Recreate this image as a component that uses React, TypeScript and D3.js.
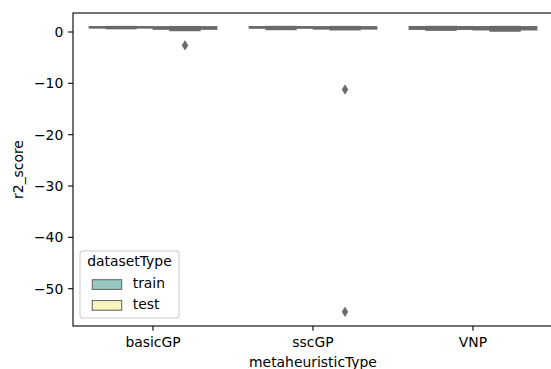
import React from "react";
import * as d3 from "d3";

const categories = ["basicGP", "sscGP", "VNP"];
const hues = ["train", "test"];
// summary stats per category for each hue: [whisker low, q1, median, q3, whisker high]
const trainStats = [
  [0.72, 0.88, 0.92, 0.95, 0.99],
  [0.55, 0.85, 0.9, 0.95, 1.0],
  [0.42, 0.6, 0.85, 0.97, 1.0],
];
const testStats = [
  [0.35, 0.62, 0.85, 0.93, 0.98],
  [0.5, 0.66, 0.86, 0.93, 0.99],
  [0.25, 0.5, 0.8, 0.95, 1.0],
];
const trainFliers: number[][] = [[], [], []];
const testFliers: number[][] = [[-2.6], [-11.2, -54.5], []];
const yTicks = [0, -10, -20, -30, -40, -50];
const hueColors = ["#96cac1", "#f6f6bc"];

const W = 551;
const H = 369;
const FS = 13.9;
const GRAY = "#6a6a6a";

export default function App() {
  const left = 73, right = 553, top = 13, bottom = 326;
  const x = d3.scaleBand<string>().domain(categories).range([left, right]).paddingInner(0).paddingOuter(0);
  const hueX = d3.scaleBand<string>().domain(hues).range([-64, 64]);
  const y = d3.scaleLinear().domain([-57.27, 3.7]).range([bottom, top]);
  const fmt = d3.format("d");
  const boxW = hueX.bandwidth() * 0.98;
  const capW = boxW * 0.5;
  const statsByHue = [trainStats, testStats];
  const fliersByHue = [trainFliers, testFliers];

  const boxes: React.ReactNode[] = [];
  categories.forEach((c, ci) => {
    const cx = (x(c) as number) + x.bandwidth() / 2;
    hues.forEach((h, hi) => {
      const center = cx + (hueX(h) as number) + hueX.bandwidth() / 2;
      const [lo, q1, med, q3, hiW] = statsByHue[hi][ci];
      const key = `${c}-${h}`;
      boxes.push(
        <g key={key}>
          <line x1={center} x2={center} y1={y(lo)} y2={y(q1)} stroke={GRAY} strokeWidth={2.08} />
          <line x1={center} x2={center} y1={y(q3)} y2={y(hiW)} stroke={GRAY} strokeWidth={2.08} />
          <line x1={center - capW / 2} x2={center + capW / 2} y1={y(lo)} y2={y(lo)} stroke={GRAY} strokeWidth={2.08} />
          <line x1={center - capW / 2} x2={center + capW / 2} y1={y(hiW)} y2={y(hiW)} stroke={GRAY} strokeWidth={2.08} />
          <rect x={center - boxW / 2} width={boxW} y={y(q3)} height={Math.max(0, y(q1) - y(q3))} fill={hueColors[hi]} stroke={GRAY} strokeWidth={2.08} />
          <line x1={center - boxW / 2} x2={center + boxW / 2} y1={y(med)} y2={y(med)} stroke={GRAY} strokeWidth={2.08} />
          {fliersByHue[hi][ci].map((v, k) => {
            const py = y(v);
            const hh = 4.6, hw = 2.8;
            return (
              <path key={k} d={`M${center},${py - hh}L${center + hw},${py}L${center},${py + hh}L${center - hw},${py}Z`} fill={GRAY} stroke={GRAY} strokeWidth={0.8} />
            );
          })}
        </g>
      );
    });
  });

  return (
    <svg width={W} height={H} style={{ position: "absolute", left: 0, top: 0, fontFamily: "DejaVu Sans" }}>
      <rect x={0} y={0} width={W} height={H} fill="white" />
      {boxes}
      {/* spines */}
      <rect x={left} y={top} width={right - left} height={bottom - top} fill="none" stroke="#000" strokeWidth={1.1} />
      {/* y ticks */}
      {yTicks.map((t) => (
        <g key={t}>
          <line x1={left - 4.86} x2={left} y1={y(t)} y2={y(t)} stroke="#000" strokeWidth={1.1} />
          <text x={left - 4.86 - 4.86} y={y(t) + 5} textAnchor="end" fontSize={FS} fill="#000">{fmt(t)}</text>
        </g>
      ))}
      {/* x ticks */}
      {categories.map((c) => {
        const cx = (x(c) as number) + x.bandwidth() / 2;
        return (
          <g key={c}>
            <line x1={cx} x2={cx} y1={bottom} y2={bottom + 4.86} stroke="#000" strokeWidth={1.1} />
            <text x={cx} y={347} textAnchor="middle" fontSize={FS} fill="#000">{c}</text>
          </g>
        );
      })}
      <text x={(left + right) / 2} y={366.5} textAnchor="middle" fontSize={FS} fill="#000">metaheuristicType</text>
      <text transform={`translate(22.5,${(top + bottom) / 2}) rotate(-90)`} textAnchor="middle" fontSize={FS} fill="#000">r2_score</text>
      {/* legend */}
      <g>
        <rect x={80} y={251} width={99} height={67} rx={2.8} fill="white" fillOpacity={0.8} stroke="#cccccc" strokeWidth={1.1} />
        <text x={129.5} y={266} textAnchor="middle" fontSize={FS} fill="#000">datasetType</text>
        {hues.map((h, i) => (
          <g key={h}>
            <rect x={92.3} y={279.7 + i * 20.8} width={29.4} height={9.7} fill={hueColors[i]} stroke={GRAY} strokeWidth={1.1} />
            <text x={132.7} y={288.3 + i * 21} fontSize={FS} fill="#000">{h}</text>
          </g>
        ))}
      </g>
    </svg>
  );
}
